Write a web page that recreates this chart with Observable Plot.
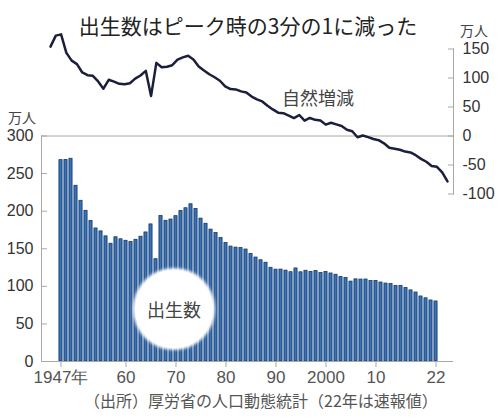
<!DOCTYPE html>
<html><head><meta charset="utf-8">
<script src="https://cdn.jsdelivr.net/npm/d3@7"></script>
<script src="https://cdn.jsdelivr.net/npm/@observablehq/plot@0.6"></script>
<style>
body{margin:0;background:#fff;}
#wrap{position:relative;width:500px;height:418px;overflow:hidden;font-family:"Noto Sans CJK JP",sans-serif;}
#wrap svg{position:absolute;left:0;top:0;background:transparent;}
.lbl{position:absolute;white-space:nowrap;line-height:1;}
#bubble{position:absolute;left:135px;top:270px;width:78px;height:78px;border-radius:50%;background:#fff;box-shadow:0 0 3px 2px #fff;display:flex;align-items:center;justify-content:center;font-size:18px;color:#444;}
</style></head><body>
<div id="wrap"></div>
<script>
const years = [1947,1948,1949,1950,1951,1952,1953,1954,1955,1956,1957,1958,1959,1960,1961,1962,1963,1964,1965,1966,1967,1968,1969,1970,1971,1972,1973,1974,1975,1976,1977,1978,1979,1980,1981,1982,1983,1984,1985,1986,1987,1988,1989,1990,1991,1992,1993,1994,1995,1996,1997,1998,1999,2000,2001,2002,2003,2004,2005,2006,2007,2008,2009,2010,2011,2012,2013,2014,2015,2016,2017,2018,2019,2020,2021,2022];
// 出生数（万人）
const births = [267.9,268.2,269.7,233.8,213.8,200.5,186.8,177.0,173.1,166.5,156.7,165.3,162.6,160.6,158.9,161.9,166.0,171.7,182.4,136.1,193.6,187.2,188.9,193.4,200.1,203.9,209.2,203.0,190.1,183.3,175.5,170.9,164.3,157.7,152.9,151.5,150.9,149.0,143.2,138.3,134.7,131.4,124.7,122.2,122.3,120.9,118.8,123.8,118.7,120.7,119.2,120.3,117.8,119.1,117.1,115.4,112.4,111.1,106.3,109.3,109.0,109.1,107.0,107.1,105.1,103.7,103.0,100.4,100.6,97.7,94.6,91.8,86.5,84.1,81.2,79.9];
// 自然増減（万人）
const naturalChange = [154.1,173.1,175.2,143.3,129.9,124.0,109.5,104.9,103.7,94.1,81.5,96.9,93.7,89.9,89.3,90.9,98.9,104.4,112.3,69.1,126.1,118.5,119.5,122.1,131.6,135.5,138.3,131.9,119.9,113.0,106.5,101.3,95.3,85.4,80.9,80.3,76.9,75.0,68.0,63.2,59.6,52.1,45.8,40.2,39.4,35.1,30.9,36.2,26.5,31.1,27.9,26.7,19.6,22.9,20.1,17.2,10.9,8.2,-2.1,0.9,-1.9,-5.1,-7.2,-12.6,-20.2,-21.9,-23.8,-26.9,-28.4,-33.1,-39.4,-44.4,-51.6,-53.2,-62.8,-78.2];
const xTicks = [1947,1960,1970,1980,1990,2000,2010,2022];
const xTickLabels = ["1947年","60","70","80","90","2000","10","22"];
const leftTicks = [0,50,100,150,200,250,300];
const rightTicks = [-100,-50,0,50,100,150];

const table = years.map((year,i)=>({year, births: births[i], ni: naturalChange[i]}));
const gray = "#a8a8a8";

const barPlot = Plot.plot({
  width: 500, height: 418,
  marginTop: 135.5, marginBottom: 57, marginLeft: 41, marginRight: 47,
  style: {background: "transparent", fontFamily: "'Liberation Sans', sans-serif"},
  x: {type: "band", domain: years, paddingInner: 0, paddingOuter: 0, insetLeft: 6.35, insetRight: 3.35, label: null},
  y: {domain: [0, 300], label: null},
  marks: [
    Plot.barY(table, {x: "year", y: "births", fill: "#b3d6f0", insetLeft: 0.3, insetRight: 0.3}),
    Plot.barY(table, {x: "year", y: "births", fill: "#3a72b4", stroke: "#1c3a6b", strokeWidth: 0.8, insetLeft: 1.0, insetRight: 1.0}),
    Plot.frame({anchor: "left", stroke: gray}),
    Plot.ruleY([0], {stroke: gray}),
    Plot.axisY({anchor: "left", ticks: leftTicks, tickSize: -6, tickPadding: 14, fontSize: 16, stroke: gray, fill: "#333", label: null, tickFormat: d => String(d)}),
    Plot.axisX({ticks: xTicks, tickSize: 6, tickPadding: 3, fontSize: 17, fontFamily: "'Liberation Sans Narrow', sans-serif", stroke: gray, fill: "#555", label: null, tickFormat: d => xTickLabels[xTicks.indexOf(d)]})
  ]
});

const linePlot = Plot.plot({
  width: 500, height: 418,
  marginTop: 48.5, marginBottom: 224.5, marginLeft: 41, marginRight: 47,
  style: {background: "transparent", fontFamily: "'Liberation Sans', sans-serif"},
  x: {domain: [1947, 2022], insetLeft: 9, insetRight: 6, axis: null, label: null},
  y: {domain: [-100, 150], label: null},
  marks: [
    Plot.ruleY([0], {stroke: gray}),
    Plot.frame({anchor: "right", stroke: gray}),
    Plot.line(table, {x: "year", y: "ni", stroke: "#1b1f3b", strokeWidth: 2.5, strokeLinejoin: "round"}),
    Plot.axisY({anchor: "right", ticks: rightTicks, tickSize: -6, tickPadding: 15, fontSize: 16, stroke: gray, fill: "#333", label: null, tickFormat: d => String(d)})
  ]
});

const wrap = document.getElementById("wrap");
wrap.appendChild(barPlot);
const bubble = document.createElement("div");
bubble.id = "bubble"; bubble.textContent = "出生数";
wrap.appendChild(bubble);
wrap.appendChild(linePlot);

function label(text, css){
  const d = document.createElement("div");
  d.className = "lbl"; d.textContent = text; d.style.cssText = css;
  wrap.appendChild(d);
}
label("出生数はピーク時の3分の1に減った", "left:0;width:496px;text-align:center;top:15px;font-size:21px;color:#222;");
label("万人", "left:8px;top:110px;font-size:14px;color:#444;");
label("万人", "left:460px;top:23px;font-size:14px;color:#444;");
label("自然増減", "left:282px;top:88px;font-size:18px;color:#444;");
label("（出所）厚労省の人口動態統計（22年は速報値）", "left:84px;top:392px;font-size:16px;color:#555;");
</script>
</body></html>
